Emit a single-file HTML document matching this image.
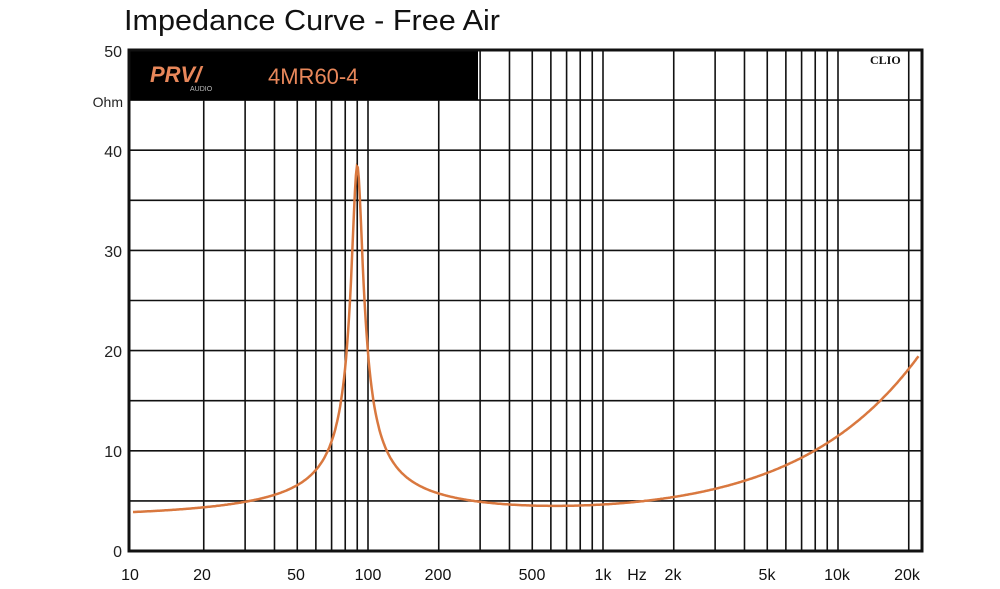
<!DOCTYPE html>
<html><head><meta charset="utf-8"><style>
body{margin:0;background:#fff;width:1000px;height:584px;overflow:hidden}
</style></head><body>
<svg id="s" width="1000" height="584" xmlns="http://www.w3.org/2000/svg" font-family="Liberation Sans, sans-serif">
<text x="124" y="30" font-size="29" fill="#111" textLength="376" lengthAdjust="spacingAndGlyphs">Impedance Curve - Free Air</text>
<g id="grid" stroke="#111" stroke-width="1.6"></g>
<rect x="129" y="50" width="349" height="50" fill="#000"/>
<text x="150" y="82" font-size="22" font-weight="bold" font-style="italic" fill="#e8875a">PRV/</text>
<text x="190" y="91" font-size="7" fill="#bbb">AUDIO</text>
<text x="268" y="84" font-size="22" fill="#e8875a">4MR60-4</text>
<text x="870" y="64" font-size="12" font-weight="bold" font-family="Liberation Serif, serif" fill="#111">CLIO</text>
<rect x="129" y="50" width="793" height="501" fill="none" stroke="#111" stroke-width="3"/>
<g font-size="16" fill="#222" text-anchor="end">
<text x="122" y="57">50</text><text x="123" y="107" font-size="14">Ohm</text>
<text x="122" y="157">40</text><text x="122" y="257">30</text><text x="122" y="357">20</text><text x="122" y="457">10</text><text x="122" y="557">0</text>
</g>
<g font-size="16" fill="#111" text-anchor="middle">
<text x="130" y="580">10</text><text x="202" y="580">20</text><text x="296" y="580">50</text><text x="368" y="580">100</text>
<text x="438" y="580">200</text><text x="532" y="580">500</text><text x="603" y="580">1k</text><text x="637" y="580">Hz</text>
<text x="673" y="580">2k</text><text x="767" y="580">5k</text><text x="837" y="580">10k</text><text x="907" y="580">20k</text>
</g>
<polyline id="c" fill="none" stroke="#d9783f" stroke-width="2.5"/>
</svg>
<script>
var X=f=>133+235*Math.log10(f/10),Y=z=>551-z*10.02;
var g=document.getElementById('grid'),h='';
[10,100,1000,10000].forEach(d=>{for(var m=1;m<10;m++){var f=d*m;if(f<=10||f>20000)continue;var x=X(f);h+='<line x1="'+x+'" y1="100" x2="'+x+'" y2="551"/>';if(x>478)h+='<line x1="'+x+'" y1="50" x2="'+x+'" y2="100"/>';}});
for(var z=5;z<50;z+=5){h+='<line x1="129" y1="'+Y(z)+'" x2="922" y2="'+Y(z)+'"/>';}
g.innerHTML=h;
var p=[];for(var i=0;i<=800;i++){var f=10*Math.pow(10,i/800*Math.log10(2200));var t=f/90-90/f;var xx=f/20000;var z=3.45+35/Math.sqrt(1+9*9*t*t)+15*Math.pow(xx,0.85)*xx/(xx+0.02);var x=X(f);if(x>921)break;p.push(x.toFixed(1)+','+Y(z).toFixed(1));}
document.getElementById('c').setAttribute('points',p.join(' '));
</script>
</body></html>
